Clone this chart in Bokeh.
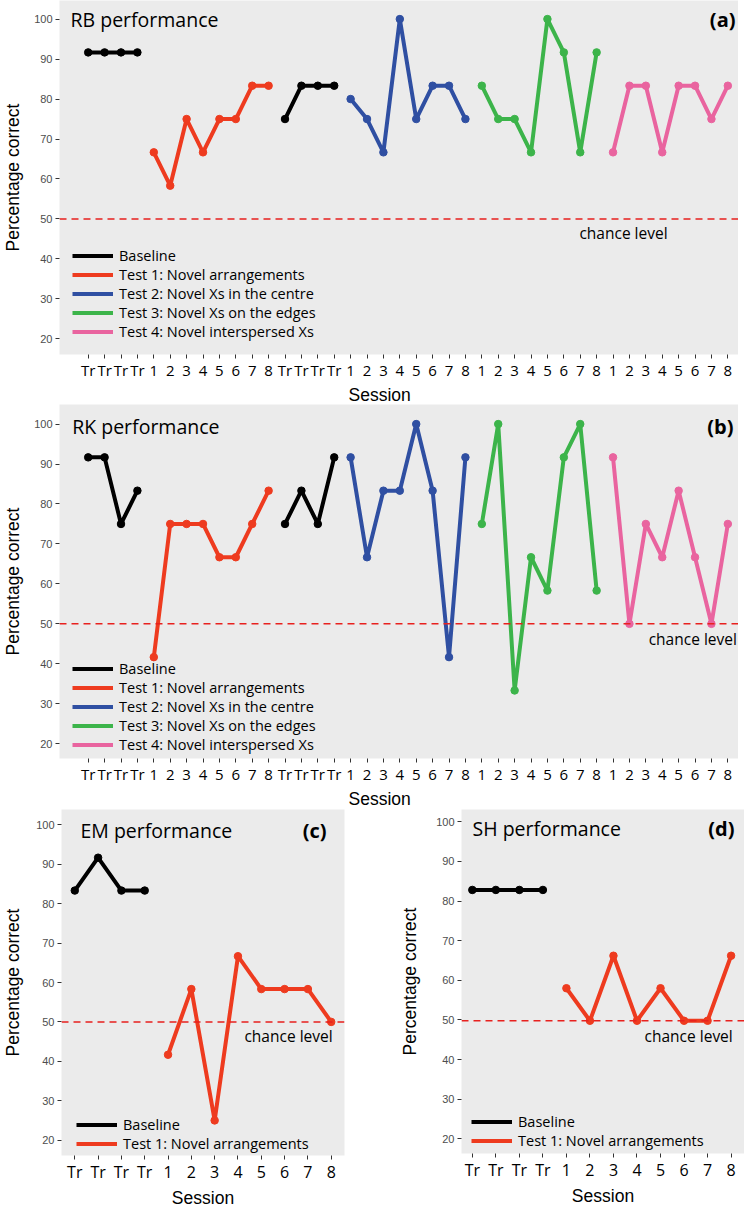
from bokeh.plotting import figure
from bokeh.models import (Range1d, FixedTicker, Span, Label, Legend, LegendItem,
                          Title, ColumnDataSource)
from bokeh.layouts import column, row
from bokeh.embed import file_html
from bokeh.resources import INLINE

# ---------------- data ----------------
TR = ["Tr", "Tr", "Tr", "Tr"]
SESS = ["1", "2", "3", "4", "5", "6", "7", "8"]
labels_ab = TR + SESS + TR + SESS + SESS + SESS
labels_cd = TR + SESS
y_ticks = [20, 30, 40, 50, 60, 70, 80, 90, 100]

legend_ab = ["Baseline", "Test 1: Novel arrangements", "Test 2: Novel Xs in the centre",
             "Test 3: Novel Xs on the edges", "Test 4: Novel interspersed Xs"]
legend_cd = ["Baseline", "Test 1: Novel arrangements"]

# RB (a)
rb_baseline1 = [91.67, 91.67, 91.67, 91.67]
rb_test1 = [66.67, 58.33, 75.0, 66.67, 75.0, 75.0, 83.33, 83.33]
rb_baseline2 = [75.0, 83.33, 83.33, 83.33]
rb_test2 = [80.0, 75.0, 66.67, 100.0, 75.0, 83.33, 83.33, 75.0]
rb_test3 = [83.33, 75.0, 75.0, 66.67, 100.0, 91.67, 66.67, 91.67]
rb_test4 = [66.67, 83.33, 83.33, 66.67, 83.33, 83.33, 75.0, 83.33]

# RK (b)
rk_baseline1 = [91.67, 91.67, 75.0, 83.33]
rk_test1 = [41.67, 75.0, 75.0, 75.0, 66.67, 66.67, 75.0, 83.33]
rk_baseline2 = [75.0, 83.33, 75.0, 91.67]
rk_test2 = [91.67, 66.67, 83.33, 83.33, 100.0, 83.33, 41.67, 91.67]
rk_test3 = [75.0, 100.0, 33.33, 66.67, 58.33, 91.67, 100.0, 58.33]
rk_test4 = [91.67, 50.0, 75.0, 66.67, 83.33, 66.67, 50.0, 75.0]

# EM (c)
em_baseline = [83.33, 91.67, 83.33, 83.33]
em_test1 = [41.67, 58.33, 25.0, 66.67, 58.33, 58.33, 58.33, 50.0]

# SH (d)
sh_baseline = [82.8, 82.8, 82.8, 82.8]
sh_test1 = [58.0, 49.8, 66.2, 49.8, 58.0, 49.8, 49.8, 66.2]

chance_abc = 50.0
chance_d = 49.8

# ---------------- style ----------------
BLACK = "#000000"
RED = "#EE3B1F"
BLUE = "#2F4FA2"
GREEN = "#3CB44A"
PINK = "#E9649F"
BG = "#EBEBEB"
DASH_RED = "#E8211E"
TXT_FONT = "Open Sans"
AX_FONT = "Liberation Sans"


def base_fig(tick_labels, xr, yr, fw, fh, bl, br, bt, bb, tick_fs, ylab_standoff):
    p = figure(frame_width=fw, frame_height=fh, min_border_left=bl, min_border_right=br,
               min_border_top=bt, min_border_bottom=bb, toolbar_location=None,
               output_backend="svg", x_range=Range1d(*xr), y_range=Range1d(*yr))
    p.background_fill_color = BG
    p.border_fill_color = "white"
    p.outline_line_color = None
    p.xgrid.visible = False
    p.ygrid.visible = False
    n = len(tick_labels)
    p.xaxis.ticker = FixedTicker(ticks=list(range(n)))
    p.xaxis.major_label_overrides = {i: tick_labels[i] for i in range(n)}
    p.yaxis.ticker = FixedTicker(ticks=y_ticks)
    for ax in (p.xaxis, p.yaxis):
        ax.axis_line_color = None
        ax.major_tick_line_color = "#333333"
        ax.major_tick_line_width = 1
        ax.major_tick_out = 4
        ax.major_tick_in = 0
        ax.minor_tick_line_color = None
    p.xaxis.major_label_text_font = TXT_FONT
    p.xaxis.major_label_text_font_size = tick_fs
    p.xaxis.major_label_text_color = "black"
    p.xaxis.major_label_standoff = 1
    p.yaxis.major_label_text_font = AX_FONT
    p.yaxis.major_label_text_font_size = "11px"
    p.yaxis.major_label_text_color = "#4D4D4D"
    p.yaxis.major_label_standoff = 3
    p.yaxis.axis_label = "Percentage correct"
    p.yaxis.axis_label_text_font = AX_FONT
    p.yaxis.axis_label_text_font_size = "17.5px"
    p.yaxis.axis_label_text_font_style = "normal"
    p.yaxis.axis_label_text_color = "black"
    p.yaxis.axis_label_standoff = ylab_standoff
    return p


def series(p, x0, values, color):
    src = ColumnDataSource(dict(x=list(range(x0, x0 + len(values))), y=values))
    r = p.line("x", "y", source=src, line_color=color, line_width=4)
    p.scatter("x", "y", source=src, size=7.5, fill_color=color, line_color=color)
    return r


def draw_all(p, groups):
    first = {}
    x0 = 0
    for name, vals, color in groups:
        r = series(p, x0, vals, color)
        first.setdefault(name, r)
        x0 += len(vals)
    return first


def add_legend(p, names, rmap, loc):
    items = [LegendItem(label=n, renderers=[rmap[n]]) for n in names]
    lg = Legend(items=items, location=loc, orientation="vertical", glyph_width=41,
                glyph_height=19, label_height=19, label_standoff=6, spacing=0,
                padding=0, margin=0, background_fill_alpha=0, border_line_alpha=0,
                label_text_font=TXT_FONT, label_text_font_size="14.5px",
                label_text_color="black")
    p.add_layout(lg)


def add_titles(p, name, tag, x_name, x_tag, y_s):
    p.add_layout(Label(x=x_name, y=y_s, x_units="screen", y_units="screen", text=name,
                       text_font=TXT_FONT, text_font_size="19.5px", text_color="black",
                       text_baseline="middle", text_align="left"))
    p.add_layout(Label(x=x_tag, y=y_s, x_units="screen", y_units="screen", text=tag,
                       text_font=TXT_FONT, text_font_size="20px", text_font_style="bold",
                       text_color="black", text_baseline="middle", text_align="right"))


def add_chance(p, level, x, y, align):
    p.add_layout(Span(location=level, dimension="width", line_color=DASH_RED,
                      line_width=1.5, line_dash="7 5"))
    p.add_layout(Label(x=x, y=y, text="chance level", text_font=TXT_FONT,
                       text_font_size="15.5px", text_color="black",
                       text_baseline="middle", text_align=align))


def session_title(p, align, offset):
    t = Title(text="Session", align=align, offset=offset, text_font=AX_FONT,
              text_font_size="17.5px", text_font_style="normal", text_color="black",
              standoff=0)
    p.add_layout(t, "below")


# ---------------- panel (a) ----------------
pa = base_fig(labels_ab, (-1.75, 39.65), (16.1, 104.65), 679, 354, 54, 0, 0, 44, "15px", 8)
rmap_a = draw_all(pa, [("Baseline", rb_baseline1, BLACK), (legend_ab[1], rb_test1, RED),
                       ("Baseline", rb_baseline2, BLACK), (legend_ab[2], rb_test2, BLUE),
                       (legend_ab[3], rb_test3, GREEN), (legend_ab[4], rb_test4, PINK)])
add_chance(pa, chance_abc, 29.95, 46.6, "left")
add_legend(pa, legend_ab, rmap_a, (13, 13))
add_titles(pa, "RB performance", "(a)", 11, 676, 335)
session_title(pa, "left", 289)

# ---------------- panel (b) ----------------
pb = base_fig(labels_ab, (-1.75, 39.65), (16.3, 104.9), 679, 354, 54, 0, 0, 44, "15px", 8)
rmap_b = draw_all(pb, [("Baseline", rk_baseline1, BLACK), (legend_ab[1], rk_test1, RED),
                       ("Baseline", rk_baseline2, BLACK), (legend_ab[2], rk_test2, BLUE),
                       (legend_ab[3], rk_test3, GREEN), (legend_ab[4], rk_test4, PINK)])
add_chance(pb, chance_abc, 39.55, 46.3, "right")
add_legend(pb, legend_ab, rmap_b, (13, 4))
add_titles(pb, "RK performance", "(b)", 12.7, 674, 332)
session_title(pb, "left", 289)

# ---------------- panel (c) ----------------
pc = base_fig(labels_cd, (-0.57, 11.57), (16.1, 103.9), 283, 346, 56, 53, 0, 44, "16px", 10)
rmap_c = draw_all(pc, [("Baseline", em_baseline, BLACK), (legend_cd[1], em_test1, RED)])
add_chance(pc, chance_abc, 11.06, 46.3, "right")
add_legend(pc, legend_cd, rmap_c, (15, 2))
add_titles(pc, "EM performance", "(c)", 19, 265, 325)
session_title(pc, "center", 0)

# ---------------- panel (d) ----------------
pd_ = base_fig(labels_cd, (-0.46, 11.57), (16.3, 103.1), 283, 344, 58, 0, 1, 45, "16px", 13)
rmap_d = draw_all(pd_, [("Baseline", sh_baseline, BLACK), (legend_cd[1], sh_test1, RED)])
add_chance(pd_, chance_d, 11.07, 46.0, "right")
add_legend(pd_, legend_cd, rmap_d, (10, 3))
add_titles(pd_, "SH performance", "(d)", 11, 273, 325)
session_title(pd_, "center", 0)

layout = column(pa, pb, row(pc, pd_))
open("out.html", "w").write(file_html(layout, INLINE, "Performance"))
